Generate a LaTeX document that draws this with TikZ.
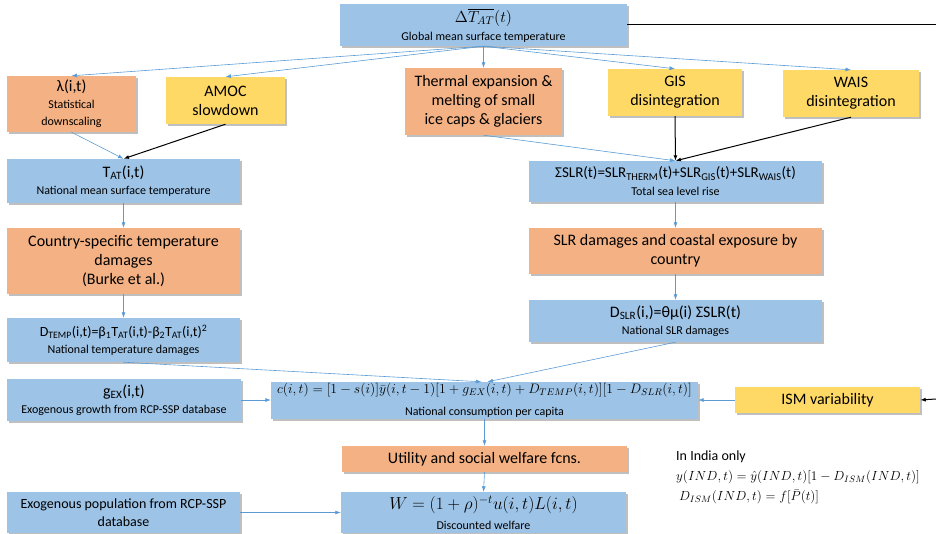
\RequirePackage{fix-cm}
\documentclass[tikz,border=0pt]{standalone}
\usepackage{amsmath}
\usepackage{fontspec}
\setmainfont{Carlito}
\usepackage{tikz}
\usetikzlibrary{arrows.meta,shadows}

\definecolor{boxblue}{RGB}{157,195,230}
\definecolor{boxorange}{RGB}{244,177,131}
\definecolor{boxyellow}{RGB}{255,217,102}
\definecolor{lineblue}{RGB}{91,155,213}

\newcommand{\lo}[1]{\textsubscript{#1}}
\newcommand{\note}[1]{{\fontsize{12}{14}\selectfont #1}}
\newcommand{\fs}[1]{\fontsize{#1}{#1}\selectfont}

\begin{document}
\begin{tikzpicture}[x=1pt, y=-1pt, ->, >={Latex[length=5.5pt,width=4pt]}]
\tikzstyle{every node} = [align=center, inner sep=0pt, font=\fontsize{16}{19}\selectfont]
\tikzstyle{box} = [drop shadow={shadow xshift=2pt, shadow yshift=-2pt, fill=black, opacity=0.25}]
\tikzstyle{bluebox} = [box, fill=boxblue]
\tikzstyle{orangebox} = [box, fill=boxorange]
\tikzstyle{yellowbox} = [box, fill=boxyellow]
\useasboundingbox (0,0) rectangle (936,533);
\node[bluebox, minimum width=287, minimum height=42] (1) at (483.5,25)
  {$\Delta\overline{T_{AT}}(t)$\\[-1pt]\note{Global mean surface temperature}};
\node[orangebox, minimum width=129, minimum height=56] (2) at (71.5,104)
  {λ(i,t)\\[-2pt]\note{Statistical}\\[-2pt]\note{downscaling}};
\node[yellowbox, minimum width=119, minimum height=47] (3) at (225.5,100.5) {AMOC\\slowdown};
\node[orangebox, minimum width=157, minimum height=67] (4) at (483.5,101.5)
  {Thermal expansion \&\\melting of small\\ice caps \& glaciers};
\node[yellowbox, minimum width=134, minimum height=47] (5) at (675,92.5) {GIS\\disintegration};
\node[yellowbox, minimum width=136, minimum height=47] (6) at (851,93.5) {WAIS\\disintegration};
\node[bluebox, minimum width=233, minimum height=44] (7) at (123.5,181)
  {T\lo{AT}(i,t)\\[-2pt]\note{National mean surface temperature}};
\node[orangebox, minimum width=233, minimum height=66] (8) at (123.5,261)
  {Country-specific temperature\\damages\\(Burke et al.)};
\node[bluebox, minimum width=233, minimum height=44] (9) at (123.5,340)
  {\fs{14}D\lo{TEMP}(i,t)=β\lo{1}T\lo{AT}(i,t)-β\lo{2}T\lo{AT}(i,t)\textsuperscript{2}\\[-2pt]\note{National temperature damages}};
\node[bluebox, minimum width=293, minimum height=41] (10) at (675.5,181.5)
  {\fs{15}ΣSLR(t)=SLR\lo{THERM}(t)+SLR\lo{GIS}(t)+SLR\lo{WAIS}(t)\\[-1pt]\note{Total sea level rise}};
\node[orangebox, minimum width=293, minimum height=46] (11) at (675.5,251)
  {SLR damages and coastal exposure by\\country};
\node[bluebox, minimum width=293, minimum height=42] (12) at (675.5,321)
  {D\lo{SLR}(i,)=θμ(i) ΣSLR(t)\\[-2pt]\note{National SLR damages}};
\node[bluebox, minimum width=234, minimum height=42] (13) at (124,400)
  {g\lo{EX}(i,t)\\[-2pt]\note{Exogenous growth from RCP-SSP database}};
\node[bluebox, minimum width=427, minimum height=37] (14) at (484.5,400.5)
  {{\fs{13.7}$c(i,t)=[1-s(i)]\bar{y}(i,t-1)[1+g_{EX}(i,t)+D_{TEMP}(i,t)][1-D_{SLR}(i,t)]$}\\[3pt]\note{National consumption per capita}};
\node[yellowbox, minimum width=185, minimum height=26] (15) at (827.5,400) {ISM variability};
\node[orangebox, minimum width=285, minimum height=26] (16) at (484.5,459) {Utility and social welfare fcns.};
\node[bluebox, minimum width=285, minimum height=41] (17) at (483.5,512.5)
  {{\fs{17.3}$W=(1+\rho)^{-t}u(i,t)L(i,t)$}\\[1pt]\note{Discounted welfare}};
\node[bluebox, minimum width=233, minimum height=41] (18) at (123.5,512.5)
  {\fs{14}Exogenous population from RCP-SSP\\[-1pt]\fs{14}database};
\node[anchor=north west, align=left, font=\fontsize{13.2}{15}\selectfont] (19) at (676,451)
  {\fs{14}In India only\\[5pt]$y(IND,t)=\hat{y}(IND,t)[1-D_{ISM}(IND,t)]$\\[5pt]\ $D_{ISM}(IND,t)=f[\bar{P}(t)]$};
\coordinate (a) at (936,24);
\coordinate (b) at (936,399);
\tikzstyle{every node} = []
\tikzstyle{flow} = [lineblue, line width=0.6pt]
\tikzstyle{push} = [black, line width=1pt]
\draw[flow] (1.south) -- (2.north);
\draw[flow] (1.south) -- (3.north);
\draw[flow] (1.south) -- (4.north);
\draw[flow] (1.south) -- (5.north);
\draw[flow] (1.south) -- (6.north);
\draw[push, -] (1.east |- a) -- (a);
\draw[flow] (2.south) -- (7.north);
\draw[push] (3.south) -- (7.north);
\draw[flow] (7.south) -- (8.north);
\draw[flow] (8.south) -- (9.north);
\draw[flow] (4.south) -- (10.north);
\draw[push] (5.south) -- (10.north);
\draw[push] (6.south) -- (10.north);
\draw[flow] (10.south) -- (11.north);
\draw[flow] (11.south) -- (12.north);
\draw[flow] (9.south) -- ([xshift=-3]14.north);
\draw[flow] (12.south) -- ([xshift=3]14.north);
\draw[flow] (13.east) -- (14.west |- 13.east);
\draw[flow] (15.west) -- (14.east |- 15.west);
\draw[push] (b) -- (15.east);
\draw[flow] (14.south) -- (16.north);
\draw[flow] (16.south) -- (17.north);
\draw[flow] (18.east) -- (17.west);
\end{tikzpicture}
\end{document}
